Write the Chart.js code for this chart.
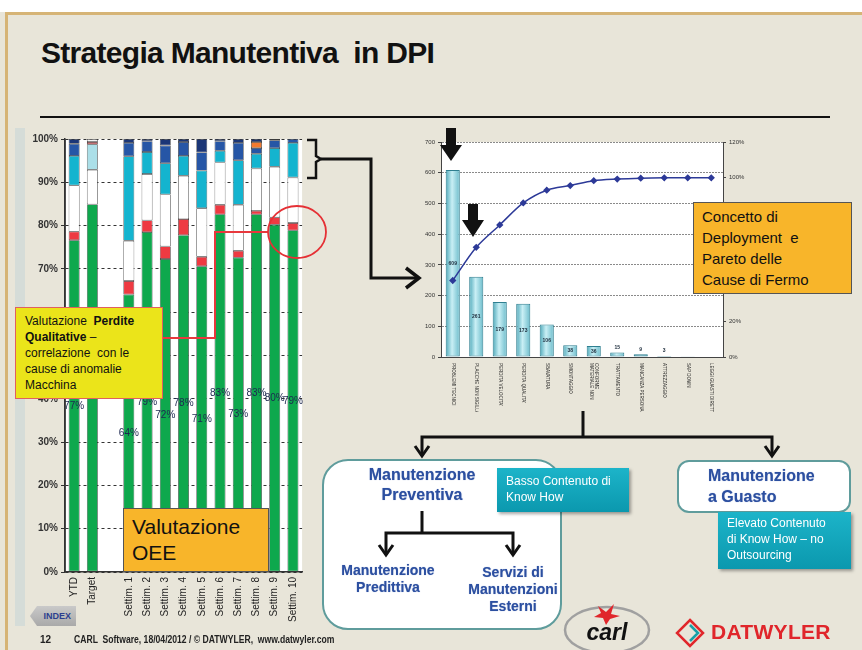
<!DOCTYPE html>
<html>
<head>
<meta charset="utf-8">
<script src="https://cdn.jsdelivr.net/npm/chart.js@4.4.1/dist/chart.umd.min.js"></script>
<style>
  html, body { margin: 0; padding: 0; }
  body { width: 862px; height: 650px; position: relative; overflow: hidden; background: #e8e5d9; font-family: "Liberation Sans", Arial, sans-serif; }
  .abs { position: absolute; }
  #topStrip { left: 0; top: 0; width: 862px; height: 12px; background: #ffffff; }
  #goldTop { left: 5px; top: 12px; width: 857px; height: 3px; background: #d6b476; }
  #goldLeft { left: 5px; top: 12px; width: 3px; height: 638px; background: #d6b476; }
  #title { left: 41px; top: 36px; font-weight: bold; font-size: 30px; letter-spacing: -0.7px; color: #111; white-space: pre; }
  #rule { left: 40px; top: 116px; width: 790px; height: 2px; background: #111; }
  #leftStrip { left: 15px; top: 128px; width: 10px; height: 498px; background: #d5dcd8; }
  #oeeChart { left: 15px; top: 130px; }
  #paretoChart { left: 415px; top: 135px; }
  #deco { left: 0; top: 0; }
  .note { box-sizing: border-box; color: #111; }
  #yellowBox { left: 15px; top: 307px; width: 148px; height: 92px; background: #ebe41a; border: 1px solid #e06060; font-size: 12px; line-height: 16px; padding: 5px 6px 0 9px; }
  #oeeBox { left: 123px; top: 508px; width: 146px; height: 64px; background: #f8b52a; border: 1px solid #555; font-size: 21px; line-height: 26px; padding: 5px 0 0 8px; }
  #paretoBox { left: 693px; top: 202px; width: 159px; height: 92px; background: #f8b52a; border: 1px solid #555; font-size: 15px; line-height: 21px; padding: 3px 0 0 8px; }
  .round { box-sizing: border-box; background: #ffffff; border: 2px solid #5f9c9c; }
  #prevBox { left: 322px; top: 459px; width: 240px; height: 171px; border-radius: 26px; }
  #guastoBox { left: 677px; top: 460px; width: 174px; height: 53px; border-radius: 12px; }
  .blue { color: #2c4fa0; font-weight: bold; text-shadow: 0 0 1px #8da2cf; }
  .teal { box-sizing: border-box; color: #ffffff; background: linear-gradient(#1cb4c9, #0b98ae); box-shadow: 2px 2px 3px rgba(0,0,0,0.35); font-size: 12px; line-height: 16px; }
  #tealA { left: 497px; top: 468px; width: 132px; height: 44px; padding: 5px 0 0 9px; }
  #tealB { left: 718px; top: 512px; width: 133px; height: 57px; padding: 3px 0 0 9px; }
  .foot { top: 634px; font-weight: bold; font-size: 10px; color: #222; white-space: pre; }
  #pageNo { left: 40px; }
  #footer { left: 74px; transform: scaleX(0.86); transform-origin: 0 0; }
  #indexBtn { left: 30px; top: 606px; width: 46px; height: 20px; background: linear-gradient(#c9c9c9, #a9a9a9); clip-path: polygon(7px 0, 100% 0, 100% 100%, 7px 100%, 0 50%); color: #2c3e8f; font-weight: bold; font-size: 9px; line-height: 20px; text-align: right; padding-right: 5px; box-sizing: border-box; }
  #datwyler { left: 711px; top: 620px; font-weight: bold; font-size: 21px; color: #e0262b; letter-spacing: 0.3px; }
</style>
</head>
<body>
<div id="topStrip" class="abs"></div>
<div id="goldTop" class="abs"></div>
<div id="goldLeft" class="abs"></div>
<div id="title" class="abs">Strategia Manutentiva  in DPI</div>
<div id="rule" class="abs"></div>
<div id="leftStrip" class="abs"></div>

<canvas id="oeeChart" class="abs" width="295" height="505"></canvas>
<canvas id="paretoChart" class="abs" width="338" height="277"></canvas>

<svg id="deco" class="abs" width="862" height="650">
  <!-- red connector and circle -->
  <polyline points="163,338 215,338 215,232 268,232" fill="none" stroke="#e8383d" stroke-width="2"/>
  <ellipse cx="297" cy="232" rx="29" ry="26" fill="none" stroke="#e53035" stroke-width="1.8"/>
  <!-- bracket and arrow to pareto -->
  <path d="M307,140 L316,140 L316,156 L321,159 L316,162 L316,178 L307,178" fill="none" stroke="#111" stroke-width="2.5"/>
  <polyline points="321,159 371,159 371,278 417,278" fill="none" stroke="#111" stroke-width="3"/>
  <polyline points="406,268 419,278 406,288" fill="none" stroke="#111" stroke-width="3.5"/>
  <!-- pareto down arrows -->
  <polygon points="446,128 456,128 456,145 462,145 451,161 440,145 446,145" fill="#111"/>
  <polygon points="468,204 478,204 478,220 484,220 473,237 462,220 468,220" fill="#111"/>
  <!-- tree -->
  <polyline points="583,411 583,437" fill="none" stroke="#111" stroke-width="3"/>
  <polyline points="422,456 422,437 772,437 772,456" fill="none" stroke="#111" stroke-width="3"/>
  <polyline points="415,446 422,456 429,446" fill="none" stroke="#111" stroke-width="3"/>
  <polyline points="765,446 772,456 779,446" fill="none" stroke="#111" stroke-width="3"/>
</svg>

<div id="prevBox" class="abs round"></div>
<div id="guastoBox" class="abs round"></div>

<svg class="abs" style="left:0;top:0" width="862" height="650">
  <polyline points="422,511 422,533" fill="none" stroke="#111" stroke-width="3"/>
  <polyline points="386,555 386,533 513,533 513,555" fill="none" stroke="#111" stroke-width="3"/>
  <polyline points="379,545 386,555 393,545" fill="none" stroke="#111" stroke-width="3"/>
  <polyline points="506,545 513,555 520,545" fill="none" stroke="#111" stroke-width="3"/>
  <!-- CARL logo -->
  <ellipse cx="607" cy="630" rx="42" ry="23" fill="none" stroke="#a0a0a0" stroke-width="2.5"/>
  <path d="M598,606 L606,612 L614,604 L611,614 L620,616 L610,619 L606,625 L603,618 L594,617 L601,613 Z" fill="#e0262b"/>
  <text x="607" y="640" text-anchor="middle" font-family="Liberation Sans, Arial" font-weight="bold" font-size="23" fill="#111" font-style="italic">carl</text>
  <!-- Datwyler mark -->
  <path d="M690,620 L703,633 L690,646 L677,633 Z" fill="none" stroke="#e0262b" stroke-width="2.5"/>
  <path d="M690,625 L698,633 L690,641" fill="none" stroke="#16a0a8" stroke-width="2.5"/>
</svg>

<div class="abs blue" style="left:322px;top:465px;width:200px;text-align:center;font-size:16px;line-height:20px;">Manutenzione<br>Preventiva</div>
<div class="abs blue" style="left:333px;top:562px;width:110px;text-align:center;font-size:14px;line-height:17px;">Manutenzione<br>Predittiva</div>
<div class="abs blue" style="left:460px;top:564px;width:106px;text-align:center;font-size:14px;line-height:17px;">Servizi di<br>Manutenzioni<br>Esterni</div>
<div class="abs blue" style="left:708px;top:465px;font-size:16px;line-height:21px;">Manutenzione<br>a Guasto</div>

<div id="tealA" class="abs teal">Basso Contenuto di<br>Know How</div>
<div id="tealB" class="abs teal">Elevato Contenuto<br>di Know How – no<br>Outsourcing</div>

<div id="yellowBox" class="abs note">Valutazione&nbsp; <b>Perdite Qualitative</b> –<br>correlazione&nbsp; con le cause di anomalie Macchina</div>
<div id="oeeBox" class="abs note">Valutazione<br>OEE</div>
<div id="paretoBox" class="abs note">Concetto di<br>Deployment&nbsp; e<br>Pareto delle<br>Cause di Fermo</div>

<div id="indexBtn" class="abs">INDEX</div>
<div id="pageNo" class="abs foot">12</div>
<div id="footer" class="abs foot">CARL  Software, 18/04/2012 / © DATWYLER,  www.datwyler.com</div>
<div id="datwyler" class="abs">DATWYLER</div>

<script>
// ---- OEE stacked chart data (percent of each bar) ----
const weekLabels = ['YTD', 'Target', '', 'Settim. 1', 'Settim. 2', 'Settim. 3', 'Settim. 4', 'Settim. 5',
    'Settim. 6', 'Settim. 7', 'Settim. 8', 'Settim. 9', 'Settim. 10'];
const oeeValues = [76.6, 84.9, null, 64.1, 78.5, 72.3, 77.8, 70.6, 82.6, 72.6, 82.6, 80.2, 78.9];
const qualityLoss = [2.0, null, null, 3.1, 2.7, 2.9, 3.7, 2.2, 2.2, 1.6, 0.8, 1.7, 1.7];
const speedLoss = [10.7, 8.0, null, 9.3, 10.7, 12.0, 10.0, 11.2, 9.8, 10.6, 9.8, 11.7, 10.5];
const stopLoss = [6.8, 5.9, null, 19.5, 5.1, 7.2, 4.6, 8.7, 2.7, 10.3, 3.4, 4.3, 8.0];
const setupLoss = [2.8, null, null, 3.1, 2.5, 4.1, 3.2, 4.2, 2.2, 4.0, 1.3, 1.8, 0.9];
const otherLoss = [null, 0.5, null, null, null, null, null, null, null, null, 1.4, null, null];
const restLoss = [1.1, 0.7, null, 0.9, 0.5, 1.5, 0.7, 3.1, 0.5, 0.9, 0.7, 0.3, null];
const yTicks = [0, 10, 20, 30, 40, 50, 60, 70, 80, 90, 100];

// ---- Pareto data ----
const causeLabels = ['PROBLEMI TECNICI', 'PLACCHE NON SIGILLATE', "PERDITA VELOCITA'", "PERDITA QUALITA'",
    'SBAVATURA', 'SMONTAGGIO', ['MATERIALE NON', 'CONFORME'], 'TRATTAMENTO', 'MANCANZA PERSONALE',
    'ATTREZZAGGIO', 'SAP DOWN', 'LEGGI GUASTI DIRETTI'];
const stopCounts = [609, 261, 179, 173, 106, 38, 36, 15, 9, 3, 1, 0];
const cumulativePct = [42.7, 61.2, 73.7, 86.0, 93.1, 95.7, 98.4, 99.3, 99.8, 100, 100, 100];

// per-bar colour with an override for the Target bar
function colorsFor(base, targetColor) {
    return weekLabels.map(l => (l === 'Target' && targetColor) ? targetColor : base);
}

const plotBackground = {
    id: 'plotBackground',
    beforeDraw(chart) {
        const a = chart.chartArea;
        chart.ctx.save();
        chart.ctx.fillStyle = '#ffffff';
        chart.ctx.fillRect(a.left, a.top, a.right - a.left, a.bottom - a.top);
        chart.ctx.restore();
    }
};

// OEE % label in the middle of the green segment
const oeeLabels = {
    id: 'oeeLabels',
    afterDatasetsDraw(chart) {
        const ctx = chart.ctx;
        const meta = chart.getDatasetMeta(0);
        ctx.save();
        ctx.font = '10px "Liberation Sans", Arial, sans-serif';
        ctx.fillStyle = '#1d2850';
        ctx.textAlign = 'center';
        ctx.textBaseline = 'middle';
        meta.data.forEach((bar, i) => {
            const v = oeeValues[i];
            if (v == null) return;
            ctx.fillText(Math.round(v) + '%', bar.x, (bar.y + bar.base) / 2);
        });
        ctx.restore();
    }
};

function stackSet(label, data, color, targetColor) {
    return {
        label: label,
        data: data,
        backgroundColor: colorsFor(color, targetColor),
        borderColor: '#3a3a3a',
        borderWidth: 0.7,
        borderSkipped: false,
        barPercentage: 0.6,
        categoryPercentage: 1
    };
}

new Chart(document.getElementById('oeeChart'), {
    type: 'bar',
    data: {
        labels: weekLabels,
        datasets: [
            stackSet('OEE', oeeValues, '#0ea84d'),
            stackSet('Perdite Qualitative', qualityLoss, '#ee3a42'),
            stackSet('Perdite Velocità', speedLoss, '#ffffff'),
            stackSet('Fermi', stopLoss, '#14b4cf', '#abdfe8'),
            stackSet('Setup', setupLoss, '#2656a6'),
            stackSet('Altro', otherLoss, '#f27a30', '#ee4a50'),
            stackSet('Varie', restLoss, '#1b3677', '#f4f4f4')
        ]
    },
    options: {
        responsive: false,
        animation: false,
        layout: { padding: { top: 9, right: 1, left: 0, bottom: 0 } },
        plugins: { legend: { display: false }, tooltip: { enabled: false } },
        scales: {
            x: {
                stacked: true,
                grid: { display: false, drawTicks: false },
                border: { color: '#333', width: 1.5 },
                ticks: {
                    minRotation: 90, maxRotation: 90, autoSkip: false, padding: 5,
                    color: '#222',
                    font: { size: 10, family: '"Liberation Sans", Arial, sans-serif' }
                },
                afterFit: s => { s.height = 63; }
            },
            y: {
                stacked: true,
                min: 0, max: 100,
                afterBuildTicks: s => { s.ticks = yTicks.map(v => ({ value: v })); },
                grid: { color: '#333', tickLength: 4, tickColor: '#333', lineWidth: 1 },
                border: { color: '#333', width: 1.5, dash: [3, 3] },
                ticks: {
                    callback: v => v + '%',
                    color: '#333', padding: 3,
                    font: { size: 10, weight: 'bold', family: '"Liberation Sans", Arial, sans-serif' }
                },
                afterFit: s => { s.width = 50; }
            }
        }
    },
    plugins: [plotBackground, oeeLabels, {
        id: 'solidAxis',
        afterDraw(chart) {
            const a = chart.chartArea, ctx = chart.ctx;
            ctx.save();
            ctx.strokeStyle = '#333';
            ctx.lineWidth = 1.5;
            ctx.beginPath();
            ctx.moveTo(a.left, a.top);
            ctx.lineTo(a.left, a.bottom);
            ctx.stroke();
            ctx.restore();
        }
    }]
});

// ---- Pareto chart ----
const paretoValueLabels = {
    id: 'paretoValueLabels',
    afterDatasetsDraw(chart) {
        const ctx = chart.ctx;
        const meta = chart.getDatasetMeta(1);
        ctx.save();
        ctx.font = 'bold 5px "Liberation Sans", Arial, sans-serif';
        ctx.fillStyle = '#1a2a3a';
        ctx.textAlign = 'center';
        ctx.textBaseline = 'middle';
        meta.data.forEach((bar, i) => {
            const v = stopCounts[i];
            if (i > 9) return;
            const h = bar.base - bar.y;
            const y = h > 10 ? (bar.y + bar.base) / 2 : bar.y - 5;
            ctx.fillText(String(v), bar.x, y);
        });
        ctx.restore();
    }
};

const paretoCategoryLabels = {
    id: 'paretoCategoryLabels',
    afterDraw(chart) {
        const ctx = chart.ctx, xs = chart.scales.x;
        ctx.save();
        ctx.font = '4.5px "Liberation Sans", Arial, sans-serif';
        ctx.fillStyle = '#222';
        ctx.textAlign = 'left';
        ctx.textBaseline = 'middle';
        causeLabels.forEach((lab, i) => {
            const x = xs.getPixelForValue(i);
            const lines = Array.isArray(lab) ? lab : [lab];
            lines.forEach((t, k) => {
                ctx.save();
                ctx.translate(x - (lines.length - 1) * 2.5 + k * 5, xs.top + 6);
                ctx.rotate(Math.PI / 2);
                ctx.fillText(t, 0, 0);
                ctx.restore();
            });
        });
        ctx.restore();
    }
};

new Chart(document.getElementById('paretoChart'), {
    data: {
        labels: causeLabels,
        datasets: [{
            type: 'line',
            label: 'Cumulato',
            data: cumulativePct,
            yAxisID: 'y1',
            borderColor: '#2d3a98',
            backgroundColor: '#2d3a98',
            borderWidth: 1.5,
            tension: 0.3,
            pointStyle: 'rectRot',
            pointRadius: 2.6,
            order: 0
        }, {
            type: 'bar',
            label: 'Fermi',
            data: stopCounts,
            yAxisID: 'y',
            backgroundColor: c => {
                const chart = c.chart, xs = chart.scales.x;
                if (!xs || !chart.chartArea) return '#9fd9e4';
                const cx = xs.getPixelForValue(c.dataIndex);
                const g = chart.ctx.createLinearGradient(cx - 7, 0, cx + 7, 0);
                g.addColorStop(0, '#4fa9ba');
                g.addColorStop(0.45, '#c9eff5');
                g.addColorStop(1, '#6cbccb');
                return g;
            },
            borderColor: '#2f7f90',
            borderWidth: 1,
            borderSkipped: false,
            barPercentage: 0.6,
            categoryPercentage: 1,
            order: 1
        }]
    },
    options: {
        responsive: false,
        animation: false,
        layout: { padding: { top: 7, right: 0, left: 0, bottom: 0 } },
        plugins: { legend: { display: false }, tooltip: { enabled: false } },
        scales: {
            x: {
                grid: { display: false },
                border: { color: '#444', width: 1 },
                ticks: { display: false },
                afterFit: s => { s.height = 55; }
            },
            y: {
                position: 'left',
                min: 0, max: 700,
                ticks: { stepSize: 100, color: '#333', padding: 3, font: { size: 6, family: '"Liberation Sans", Arial, sans-serif' } },
                grid: { color: '#8a8a8a', tickLength: 3, tickColor: '#444' },
                border: { color: '#444', width: 1, dash: [2, 1] },
                afterFit: s => { s.width = 26; }
            },
            y1: {
                position: 'right',
                min: 0, max: 120,
                ticks: { stepSize: 20, callback: v => v + '%', color: '#333', padding: 3, font: { size: 6, family: '"Liberation Sans", Arial, sans-serif' } },
                grid: { drawOnChartArea: false, tickLength: 3, tickColor: '#444' },
                border: { color: '#444', width: 1 },
                afterFit: s => { s.width = 30; }
            }
        }
    },
    plugins: [plotBackground, paretoValueLabels, paretoCategoryLabels]
});
</script>
</body>
</html>
